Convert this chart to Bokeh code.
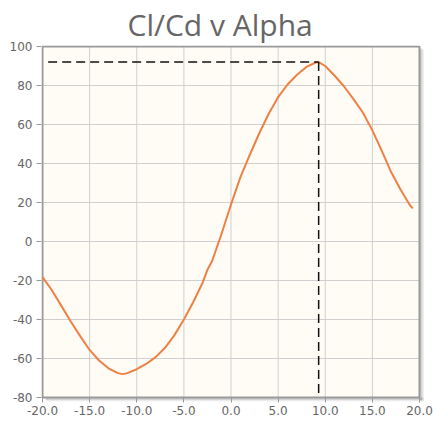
from bokeh.plotting import figure
from bokeh.models import FixedTicker, NumeralTickFormatter, ColumnDataSource
from bokeh.embed import file_html
from bokeh.resources import INLINE

alpha = [-20, -19, -18, -17, -16, -15, -14, -13, -12, -11.5, -11, -10, -9, -8, -7, -6, -5,
         -4, -3, -2.5, -2, -1, 0, 1, 2, 3, 4, 5, 6, 7, 8, 9, 9.3, 10, 11, 12, 13, 14, 15,
         16, 17, 18, 19, 19.3]
clcd = [-18.3, -25, -33, -41, -48.5, -55.6, -61, -65, -67.5, -68, -67.5, -65.5, -62.8, -59.3,
        -54.5, -48, -40, -31, -21, -14.5, -10, 4, 19, 33, 44.5, 55.5, 65.5, 74, 80.5, 85.5,
        89.5, 91.8, 92, 90, 85, 79.5, 73, 66, 57, 46.5, 35.5, 26.5, 18.5, 17]
peak_alpha = 9.3
peak_clcd = 92
x_ticks = [-20, -15, -10, -5, 0, 5, 10, 15, 20]
y_ticks = [-80, -60, -40, -20, 0, 20, 40, 60, 80, 100]
x_lo, x_hi = -20, 20
y_lo, y_hi = -80, 100

p = figure(width=433, height=424, x_range=(-20.106, 20.53), y_range=(-82.04, 100.51),
           output_backend="svg", toolbar_location=None,
           min_border_left=41, min_border_right=9, min_border_top=43, min_border_bottom=23,
           title="Cl/Cd v Alpha")
p.title.align = "left"
p.title.offset = 86
p.title.standoff = 2
p.title.text_font = "Open Sans"
p.title.text_font_size = "30px"
p.title.text_font_style = "normal"
p.title.text_color = "#666666"

p.background_fill_color = "white"
p.border_fill_color = "white"
p.outline_line_color = None

# soft drop shadow right and below the plot panel
p.quad(left=[x_hi, -19.6], right=[20.45, 20.45], top=[98.4, y_lo], bottom=[-82.0, -82.0],
       fill_color="#000000", fill_alpha=0.08, line_color=None)
p.quad(left=[x_hi, -19.7], right=[20.3, 20.3], top=[99.0, y_lo], bottom=[-81.3, -81.3],
       fill_color="#000000", fill_alpha=0.10, line_color=None)

# plot panel
p.quad(left=[x_lo], right=[x_hi], top=[y_hi], bottom=[y_lo],
       fill_color="#FEFCF5", line_color=None)

for ax in (p.xaxis[0], p.yaxis[0]):
    ax.axis_line_color = None
    ax.major_tick_line_color = "#999999"
    ax.minor_tick_line_color = None
    ax.major_label_text_color = "#666666"
    ax.major_label_text_font = "DejaVu Sans"
    ax.major_label_text_font_size = "12px"
p.xaxis.major_tick_in = 4
p.xaxis.major_tick_out = 1
p.xaxis.major_label_standoff = 3
p.yaxis.major_tick_in = 0
p.yaxis.major_tick_out = 5
p.yaxis.major_label_standoff = 4

p.xaxis.ticker = FixedTicker(ticks=x_ticks)
p.yaxis.ticker = FixedTicker(ticks=y_ticks)
p.xaxis.formatter = NumeralTickFormatter(format="0.0")
p.yaxis.formatter = NumeralTickFormatter(format="0")
p.xgrid.visible = False
p.ygrid.visible = False

# grid lines inside the plot panel
p.segment(x0=x_ticks[1:-1], x1=x_ticks[1:-1], y0=[y_lo] * 7, y1=[y_hi] * 7,
          line_color="#D0D0D0", line_width=1)
p.segment(x0=[x_lo] * 8, x1=[x_hi] * 8, y0=y_ticks[1:-1], y1=y_ticks[1:-1],
          line_color="#D0D0D0", line_width=1)

# panel border
p.quad(left=[x_lo], right=[x_hi], top=[y_hi], bottom=[y_lo],
       fill_color=None, line_color="#999999", line_width=2)

src = ColumnDataSource(dict(x=alpha, y=clcd))
p.line("x", "y", source=src, line_color="#EE8044", line_width=2)

p.line([-19.4, peak_alpha], [peak_clcd, peak_clcd], line_color="#111111",
       line_width=1.5, line_dash="9 5")
p.line([peak_alpha, peak_alpha], [peak_clcd, y_lo], line_color="#111111",
       line_width=1.5, line_dash="9 5")

open("out.html", "w").write(file_html(p, INLINE))
